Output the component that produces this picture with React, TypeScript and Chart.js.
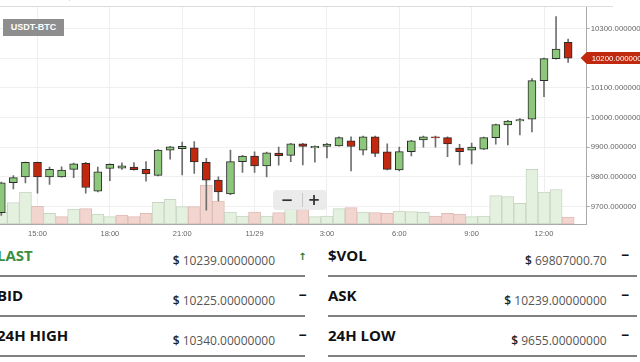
import React, { useEffect, useRef } from "react";
import { Chart, registerables } from "chart.js";

Chart.register(...registerables);

// ---- data ----
const times = [
  "11/28 13:30", "11/28 14:00", "11/28 14:30", "11/28 15:00", "11/28 15:30", "11/28 16:00",
  "11/28 16:30", "11/28 17:00", "11/28 17:30", "11/28 18:00", "11/28 18:30", "11/28 19:00",
  "11/28 19:30", "11/28 20:00", "11/28 20:30", "11/28 21:00", "11/28 21:30", "11/28 22:00",
  "11/28 22:30", "11/28 23:00", "11/28 23:30", "11/29 00:00", "11/29 00:30", "11/29 01:00",
  "11/29 01:30", "11/29 02:00", "11/29 02:30", "11/29 03:00", "11/29 03:30", "11/29 04:00",
  "11/29 04:30", "11/29 05:00", "11/29 05:30", "11/29 06:00", "11/29 06:30", "11/29 07:00",
  "11/29 07:30", "11/29 08:00", "11/29 08:30", "11/29 09:00", "11/29 09:30", "11/29 10:00",
  "11/29 10:30", "11/29 11:00", "11/29 11:30", "11/29 12:00", "11/29 12:30", "11/29 13:00",
];
const opens = [
  9679, 9780, 9800, 9849, 9800, 9800, 9825, 9845, 9752, 9828, 9829, 9833,
  9825, 9805, 9890, 9895, 9898, 9849, 9789, 9742, 9851, 9870, 9837, 9880,
  9872, 9911, 9897, 9902, 9904, 9921, 9890, 9935, 9884, 9823, 9885, 9924,
  9935, 9932, 9897, 9890, 9893, 9932, 9975, 9988, 9994, 10124, 10198, 10253,
];
const highs = [
  9782, 9804, 9850, 9850, 9833, 9834, 9846, 9849, 9833, 9844, 9847, 9848,
  9851, 9892, 9903, 9917, 9919, 9862, 9800, 9890, 9872, 9884, 9883, 9900,
  9913, 9913, 9904, 9913, 9935, 9935, 9937, 9937, 9911, 9900, 9923, 9937,
  9937, 9935, 9909, 9914, 9934, 9978, 9990, 9996, 10131, 10200, 10340, 10264,
];
const lows = [
  9670, 9759, 9779, 9745, 9774, 9799, 9797, 9745, 9749, 9787, 9825, 9822,
  9785, 9803, 9859, 9806, 9811, 9688, 9719, 9740, 9815, 9815, 9800, 9839,
  9851, 9840, 9849, 9864, 9903, 9820, 9874, 9868, 9823, 9820, 9870, 9900,
  9900, 9868, 9840, 9843, 9891, 9910, 9907, 9941, 9951, 10070, 10196, 10185,
];
const closes = [
  9780, 9797, 9849, 9800, 9825, 9823, 9844, 9764, 9817, 9842, 9837, 9824,
  9810, 9890, 9901, 9903, 9850, 9789, 9749, 9851, 9870, 9837, 9881, 9871,
  9911, 9902, 9903, 9910, 9932, 9902, 9935, 9879, 9825, 9885, 9921, 9935,
  9931, 9911, 9885, 9900, 9932, 9976, 9988, 9993, 10124, 10198, 10230, 10200,
];
const volumes = [
  120, 215, 320, 176, 107, 73, 150, 153, 100, 73, 90, 73,
  107, 217, 247, 173, 173, 390, 230, 120, 80, 120, 80, 113,
  150, 150, 73, 80, 153, 163, 120, 113, 107, 130, 123, 117,
  80, 107, 100, 73, 80, 283, 273, 207, 547, 320, 343, 70,
];
const xTickTimes = ["11/28 15:00", "11/28 18:00", "11/28 21:00", "11/29 00:00", "11/29 03:00", "11/29 06:00", "11/29 09:00", "11/29 12:00"];
const xTickLabels = ["15:00", "18:00", "21:00", "11/29", "3:00", "6:00", "9:00", "12:00"];
const viewWindow = [13.446, 37.77]; // hours since 11/28 00:00
const priceRange = [9641, 10372];
const volumeMax = 2170;
const pair = "USDT-BTC";

const statLabels = ["LAST", "$VOL", "BID", "ASK", "24H HIGH", "24H LOW"];
const statValues = ["10239.00000000", "69807000.70", "10225.00000000", "10239.00000000", "10340.00000000", "9655.00000000"];
const statIcons = ["↑", "−", "−", "−", "−", "−"];

const parseTime = (t: string) => {
  const [d, hm] = t.split(" ");
  const day = Number(d.split("/")[1]);
  const [h, m] = hm.split(":").map(Number);
  return (day - 28) * 24 + h + m / 60;
};

const GREEN = "#8dc77b";
const RED = "#c1290e";
const TICK_FONT = { family: "'Liberation Sans', Arial, sans-serif", size: 7.5 };
const YTICK_FONT = { family: "'Liberation Sans', Arial, sans-serif", size: 7.8 };

const priceTag = {
  id: "priceTag",
  afterDraw(chart: any) {
    const { ctx, chartArea } = chart;
    const yScale = chart.scales.y;
    const last = closes[closes.length - 1];
    const py = yScale.getPixelForValue(last);
    const x0 = chartArea.right - 6;
    ctx.save();
    ctx.fillStyle = RED;
    ctx.beginPath();
    ctx.moveTo(x0, py);
    ctx.lineTo(x0 + 6, py - 6);
    ctx.lineTo(chart.width, py - 6);
    ctx.lineTo(chart.width, py + 6);
    ctx.lineTo(x0 + 6, py + 6);
    ctx.closePath();
    ctx.fill();
    ctx.fillStyle = "#ffffff";
    ctx.font = "7.8px 'Liberation Sans', Arial, sans-serif";
    ctx.textBaseline = "middle";
    ctx.textAlign = "left";
    ctx.fillText(last.toFixed(6), chartArea.right + 5, py + 0.5);
    ctx.restore();
  },
};

function StatCell({ idx }: { idx: number }) {
  const col = idx % 2;
  const row = Math.floor(idx / 2);
  const left = col === 0 ? -3 : 328;
  const lineLeft = col === 0 ? 0 : 328;
  const lineRight = col === 0 ? 305 : 637;
  const valueRight = col === 0 ? 275 : 606.7;
  const iconCenter = col === 0 ? 302.5 : 625;
  const rowTop = row * 40;
  const isLast = idx === 0;
  return (
    <>
      <div
        style={{
          position: "absolute",
          left,
          top: 248 + rowTop,
          font: "bold 15px 'Open Sans', sans-serif",
          lineHeight: "15px",
          color: isLast ? "#3b8f3f" : "#111",
          whiteSpace: "nowrap",
        }}
      >
        {statLabels[idx]}
      </div>
      <div
        style={{
          position: "absolute",
          right: 640 - valueRight,
          top: 255 + rowTop,
          font: "12px 'Open Sans', sans-serif",
          lineHeight: "12px",
          color: "#555",
          whiteSpace: "nowrap",
        }}
      >
        <span style={{ color: "#222", fontWeight: 600 }}>$</span> {statValues[idx]}
      </div>
      <div
        style={{
          position: "absolute",
          left: iconCenter - 10,
          width: 20,
          textAlign: "center",
          top: (isLast ? 251.5 : 248) + rowTop,
          font: isLast ? "bold 10px 'DejaVu Sans', sans-serif" : "bold 14px 'Open Sans', sans-serif",
          lineHeight: isLast ? "10px" : "14px",
          color: isLast ? "#2a7a2e" : "#111",
        }}
      >
        {statIcons[idx]}
      </div>
      <div
        style={{
          position: "absolute",
          left: lineLeft,
          width: lineRight - lineLeft,
          top: 275 + rowTop,
          height: 2,
          background: "#808080",
        }}
      />
    </>
  );
}

export default function App() {
  const ref = useRef<HTMLCanvasElement>(null);

  useEffect(() => {
    const xs = times.map(parseTime);
    const tickVals = xTickTimes.map(parseTime);
    const candleUp = closes.map((c, i) => c >= opens[i]);
    const volUp = closes.map((c, i) => c >= (i > 0 ? closes[i - 1] : opens[i]));

    const chart = new Chart(ref.current as HTMLCanvasElement, {
      type: "bar",
      data: {
        datasets: [
          {
            label: "body",
            data: xs.map((x, i) => ({ x, y: [opens[i], closes[i]] })) as any,
            backgroundColor: candleUp.map((u) => (u ? GREEN : RED)),
            borderColor: "#2b2b2b",
            borderWidth: 1,
            borderSkipped: false,
            barThickness: 8,
            grouped: false,
            order: 0,
            yAxisID: "y",
          } as any,
          {
            label: "wick",
            data: xs.map((x, i) => ({ x, y: [lows[i], highs[i]] })) as any,
            backgroundColor: "#6f6f6f",
            borderWidth: 0,
            barThickness: 1,
            grouped: false,
            order: 1,
            yAxisID: "y",
          } as any,
          {
            label: "volume",
            data: xs.map((x, i) => ({ x, y: volumes[i] })) as any,
            backgroundColor: volUp.map((u) => (u ? "#e5f1df" : "#f3d5cf")),
            borderColor: volUp.map((u) => (u ? "#c9d5c4" : "#dfbdb7")),
            borderWidth: 1,
            borderSkipped: false,
            barPercentage: 1,
            categoryPercentage: 1,
            grouped: false,
            order: 2,
            yAxisID: "yv",
          } as any,
        ],
      },
      options: {
        responsive: false,
        animation: false,
        events: [],
        layout: { padding: { top: 7, left: 0, right: 0, bottom: 0 } },
        plugins: { legend: { display: false }, tooltip: { enabled: false } },
        scales: {
          x: {
            type: "linear",
            position: "bottom",
            min: viewWindow[0],
            max: viewWindow[1],
            offset: false,
            grid: { color: "#eeeeee", offset: false, drawTicks: false },
            border: { color: "#aaaaaa" },
            ticks: {
              font: TICK_FONT,
              color: "#666",
              padding: 5,
              includeBounds: false,
              autoSkip: false,
              maxRotation: 0,
              callback: (v: any) => {
                const k = tickVals.findIndex((t) => Math.abs(t - Number(v)) < 1e-6);
                return k >= 0 ? xTickLabels[k] : "";
              },
            },
            afterBuildTicks: (s: any) => {
              s.ticks = tickVals.map((v) => ({ value: v }));
            },
            afterFit: (s: any) => {
              s.height = 21;
            },
          } as any,
          y: {
            type: "linear",
            position: "right",
            min: priceRange[0],
            max: priceRange[1],
            grid: { color: "#f0f0f0", tickColor: "#aaaaaa", tickLength: 3 },
            border: { color: "#aaaaaa" },
            ticks: {
              stepSize: 100,
              includeBounds: false,
              font: YTICK_FONT,
              color: "#666",
              padding: 1,
              callback: (v: any) => Number(v).toFixed(6),
            },
            afterFit: (s: any) => {
              s.width = 53.3;
            },
          } as any,
          yv: {
            type: "linear",
            display: false,
            min: 0,
            max: volumeMax,
          },
        },
      },
      plugins: [priceTag],
    });
    return () => chart.destroy();
  }, []);

  return (
    <div
      style={{
        position: "fixed",
        left: 0,
        top: 0,
        width: 640,
        height: 362,
        overflow: "hidden",
        background: "#fff",
      }}
    >
      <canvas ref={ref} width={640} height={245} style={{ position: "absolute", left: 0, top: 0, display: "block" }} />
      {/* clipped toolbar above the chart */}
      <div
        style={{
          position: "absolute",
          left: 5,
          top: -19,
          width: 76,
          height: 19,
          border: "1px solid #d6d6d6",
          borderRadius: 3,
          boxSizing: "border-box",
        }}
      >
        <div style={{ position: "absolute", left: 63, top: 0, width: 1, height: 19, background: "#d6d6d6" }} />
      </div>
      <div style={{ position: "absolute", left: 0, top: 6, width: 613, height: 1, background: "#dcdcdc" }} />
      <div
        style={{
          position: "absolute",
          left: 3,
          top: 19,
          width: 61,
          height: 17,
          background: "#8e8e8e",
          color: "#fff",
          font: "bold 9px 'Liberation Sans', Arial, sans-serif",
          lineHeight: "17px",
          textAlign: "center",
        }}
      >
        {pair}
      </div>
      {/* zoom control */}
      <div
        style={{
          position: "absolute",
          left: 273,
          top: 190,
          width: 54,
          height: 20,
          background: "rgba(232,232,232,0.85)",
          borderRadius: 4,
        }}
      >
        <div style={{ position: "absolute", left: 4, width: 20, top: 1, textAlign: "center", font: "bold 15px 'DejaVu Sans', sans-serif", lineHeight: "18px", color: "#333" }}>−</div>
        <div style={{ position: "absolute", left: 29, top: 3, width: 1, height: 14, background: "#c8c8c8" }} />
        <div style={{ position: "absolute", left: 31, width: 20, top: 1, textAlign: "center", font: "bold 15px 'DejaVu Sans', sans-serif", lineHeight: "18px", color: "#333" }}>+</div>
      </div>
      {statLabels.map((_, i) => (
        <StatCell key={i} idx={i} />
      ))}
    </div>
  );
}
